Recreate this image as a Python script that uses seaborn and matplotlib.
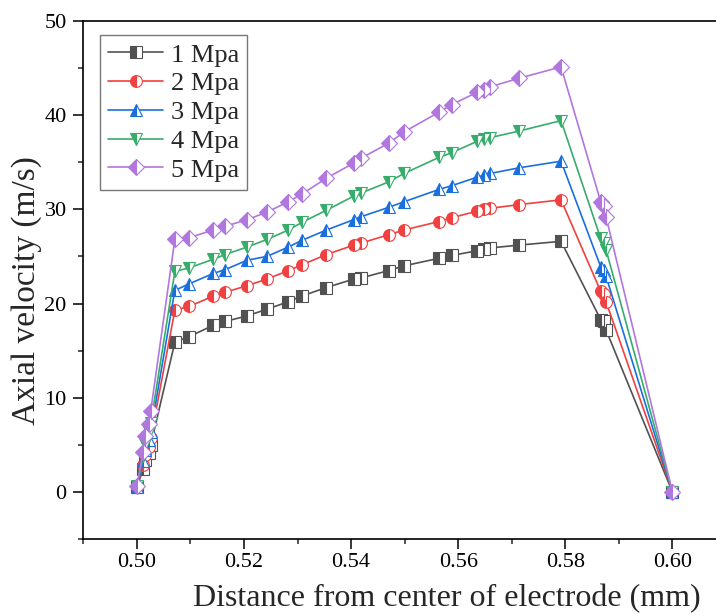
import matplotlib
matplotlib.use('Agg')
import matplotlib.pyplot as plt
from matplotlib.ticker import MultipleLocator, FormatStrFormatter
import seaborn as sns

# distance from electrode centre (mm), shared by all pressures
distance = [0.5000, 0.5012, 0.5016, 0.5022, 0.5026, 0.5071, 0.5098, 0.5143, 0.5165, 0.5206,
            0.5243, 0.5283, 0.5308, 0.5354, 0.5405, 0.5418, 0.5470, 0.5499, 0.5564, 0.5588,
            0.5635, 0.5648, 0.5660, 0.5714, 0.5792, 0.5866, 0.5872, 0.5876, 0.6000]

vel_1mpa = [0.5, 2.5, 3.4, 4.1, 5.0, 15.9, 16.5, 17.7, 18.1, 18.7, 19.4, 20.2, 20.8, 21.7, 22.6,
            22.7, 23.5, 24.0, 24.8, 25.1, 25.6, 25.8, 25.9, 26.2, 26.6, 18.3, 18.1, 17.2, 0.0]
vel_2mpa = [0.5, 2.9, 3.9, 4.8, 5.7, 19.3, 19.7, 20.8, 21.2, 21.9, 22.6, 23.5, 24.1, 25.2, 26.2,
            26.4, 27.3, 27.8, 28.7, 29.1, 29.8, 30.0, 30.1, 30.5, 31.0, 21.3, 21.0, 20.2, 0.0]
vel_3mpa = [0.5, 3.3, 4.5, 5.5, 6.4, 21.4, 22.1, 23.2, 23.6, 24.6, 25.0, 26.0, 26.7, 27.8, 28.9,
            29.2, 30.2, 30.8, 32.1, 32.5, 33.4, 33.6, 33.8, 34.4, 35.1, 23.9, 23.6, 22.9, 0.0]
vel_4mpa = [0.6, 3.8, 5.1, 6.4, 7.3, 23.4, 23.8, 24.7, 25.2, 26.0, 26.8, 27.8, 28.6, 29.9, 31.4,
            31.7, 32.9, 33.8, 35.5, 36.0, 37.2, 37.4, 37.6, 38.3, 39.4, 26.9, 26.4, 25.7, 0.0]
vel_5mpa = [0.7, 4.3, 6.0, 7.25, 8.65, 26.8, 27.0, 27.8, 28.2, 28.9, 29.7, 30.8, 31.6, 33.3, 34.9,
            35.4, 37.0, 38.2, 40.3, 41.1, 42.4, 42.7, 43.0, 43.9, 45.1, 30.8, 30.3, 29.2, 0.0]

labels = ['1 Mpa', '2 Mpa', '3 Mpa', '4 Mpa', '5 Mpa']
series = [vel_1mpa, vel_2mpa, vel_3mpa, vel_4mpa, vel_5mpa]
colors = ['#515151', '#F14040', '#1A6FDF', '#37AD6B', '#B177DE']
markers = ['s', 'o', '^', 'v', 'D']

sns.set_style('ticks')
plt.rcParams['font.family'] = ['Liberation Serif', 'DejaVu Serif']
plt.rcParams['mathtext.fontset'] = 'stix'

fig = plt.figure(figsize=(7.16, 6.14), dpi=100)
ax = fig.add_axes([0.1163, 0.1217, 0.8977, 0.8446])

for vals, lab, c, m in zip(series, labels, colors, markers):
    sns.lineplot(x=distance, y=vals, ax=ax, color=c, marker=m, markersize=8.5,
                 mec=c, mew=0.8, fillstyle='left', markerfacecoloralt='white',
                 linewidth=1.2, label=lab, estimator=None, sort=False)

ax.set_xlim(0.49, 0.61)
ax.set_ylim(-5, 50)
ax.xaxis.set_major_locator(MultipleLocator(0.02))
ax.xaxis.set_minor_locator(MultipleLocator(0.01))
ax.xaxis.set_major_formatter(FormatStrFormatter('%.2f'))
ax.yaxis.set_major_locator(MultipleLocator(10))
ax.yaxis.set_minor_locator(MultipleLocator(5))

ax.tick_params(which='major', direction='out', length=7, width=1.1, labelsize=16, colors='black')
ax.tick_params(which='minor', direction='out', length=3.6, width=1.1)
ax.tick_params(axis='x', pad=3)
ax.tick_params(axis='y', pad=5)
ax.spines['right'].set_visible(False)
for s in ax.spines.values():
    s.set_linewidth(1.2)
    s.set_color('black')

ax.set_xlabel('Distance from center of electrode (mm)', fontsize=23)
ax.set_ylabel('Axial velocity (m/s)', fontsize=24)
ax.xaxis.set_label_coords(0.566, -0.086)
ax.yaxis.set_label_coords(-0.064, 0.48)

leg = ax.legend(loc='upper left', bbox_to_anchor=(0.026, 0.972), borderaxespad=0,
                fontsize=19, frameon=True, fancybox=False, edgecolor='#555555',
                handlelength=2.1, handletextpad=0.3, labelspacing=0.2, borderpad=0.3)
leg.get_frame().set_linewidth(1.0)

fig.savefig('out.png', dpi=100)
